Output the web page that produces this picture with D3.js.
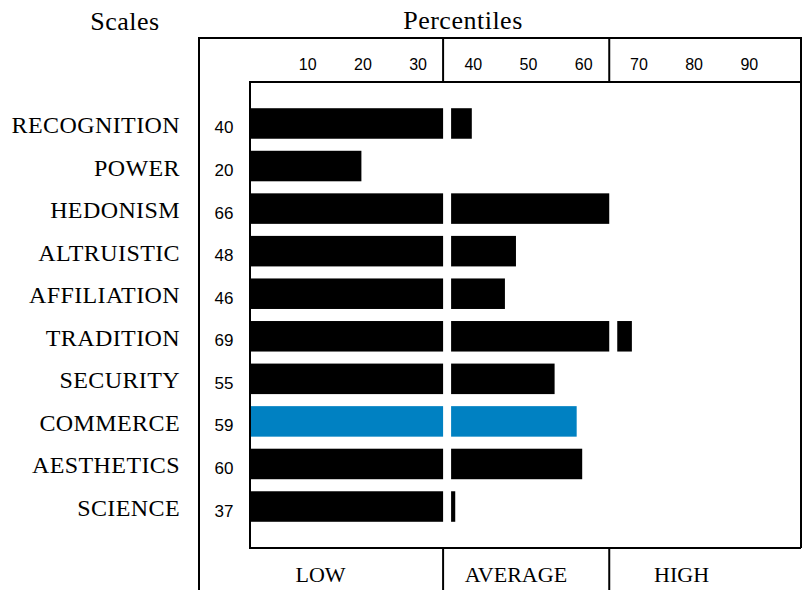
<!DOCTYPE html>
<html><head><meta charset="utf-8">
<script src="https://cdn.jsdelivr.net/npm/d3@7"></script>
<style>html,body{margin:0;padding:0;background:#fff;}svg{display:block;}</style>
</head><body>
<svg id="chart" width="802" height="590"></svg>
<script>
const categories = ["RECOGNITION","POWER","HEDONISM","ALTRUISTIC","AFFILIATION","TRADITION","SECURITY","COMMERCE","AESTHETICS","SCIENCE"];
const values = [40,20,66,48,46,69,55,59,60,37];
const highlighted = ["COMMERCE"];
const tickValues = [10,20,30,40,50,60,70,80,90];
const zoneBounds = [34.8, 64.9];
const zoneNames = ["LOW","AVERAGE","HIGH"];

const svg = d3.select("#chart");
const serif = "'Liberation Serif','Times New Roman',serif";
const sans = "'Liberation Sans',Arial,sans-serif";

const outer = {left:199, top:38, right:801, bottom:592};
const inner = {left:250, top:82, right:801, bottom:548};

const x = d3.scaleLinear().domain([0,100]).range([251, 803]);
const y = d3.scaleBand().domain(categories).range([inner.top, inner.bottom])
  .paddingInner(0.283).paddingOuter(0.616);

// bars
svg.append("g").selectAll("rect").data(categories).join("rect")
  .attr("x", x(0))
  .attr("y", d => y(d))
  .attr("width", (d,i) => x(values[i]) - x(0))
  .attr("height", y.bandwidth())
  .attr("fill", d => highlighted.includes(d) ? "#0081c2" : "#000");

// white gaps at zone boundaries
svg.append("g").selectAll("rect").data(zoneBounds).join("rect")
  .attr("x", d => x(d)).attr("width", 8)
  .attr("y", inner.top + 1).attr("height", inner.bottom - inner.top - 2)
  .attr("fill", "#fff");

const lineG = svg.append("g").attr("stroke", "#000").attr("stroke-width", 2).attr("fill", "none");
// outer frame
lineG.append("path").attr("d", `M${outer.left},${outer.bottom}V${outer.top}H${outer.right}V${inner.bottom}`);
// inner frame
lineG.append("path").attr("d", `M${inner.right},${inner.top}H${inner.left}V${inner.bottom}H${inner.right}`);
// zone dividers in header and footer
zoneBounds.forEach(b => {
  lineG.append("line").attr("x1", x(b)).attr("x2", x(b)).attr("y1", outer.top).attr("y2", inner.top);
  lineG.append("line").attr("x1", x(b)).attr("x2", x(b)).attr("y1", inner.bottom).attr("y2", outer.bottom);
});

// tick labels
svg.append("g").selectAll("text").data(tickValues).join("text")
  .attr("x", d => x(d) + 1.5).attr("y", 70)
  .attr("text-anchor", "middle")
  .style("font-family", sans).style("font-size", "16px")
  .text(d => d);

// category labels
svg.append("g").selectAll("text").data(categories).join("text")
  .attr("x", 180).attr("y", d => y(d) + y.bandwidth()/2 + 9.5)
  .attr("text-anchor", "end")
  .style("font-family", serif).style("font-size", "24px").style("letter-spacing", "0.4px")
  .text(d => d);

// value labels
svg.append("g").selectAll("text").data(categories).join("text")
  .attr("x", 224).attr("y", d => y(d) + y.bandwidth()/2 + 10)
  .attr("text-anchor", "middle")
  .style("font-family", sans).style("font-size", "17px")
  .text((d,i) => values[i]);

// titles
svg.append("text").attr("x", 125).attr("y", 30).attr("text-anchor", "middle")
  .style("font-family", serif).style("font-size", "26px").style("letter-spacing", "0.5px").text("Scales");
svg.append("text").attr("x", 463).attr("y", 29).attr("text-anchor", "middle")
  .style("font-family", serif).style("font-size", "26px").style("letter-spacing", "0.5px").text("Percentiles");

// zone labels
const zoneLabelAt = [12.6, 48, 78];
svg.append("g").selectAll("text").data(zoneNames).join("text")
  .attr("x", (d,i) => x(zoneLabelAt[i])).attr("y", 582)
  .attr("text-anchor", "middle")
  .style("font-family", serif).style("font-size", "22px")
  .text(d => d);
</script>
</body></html>
